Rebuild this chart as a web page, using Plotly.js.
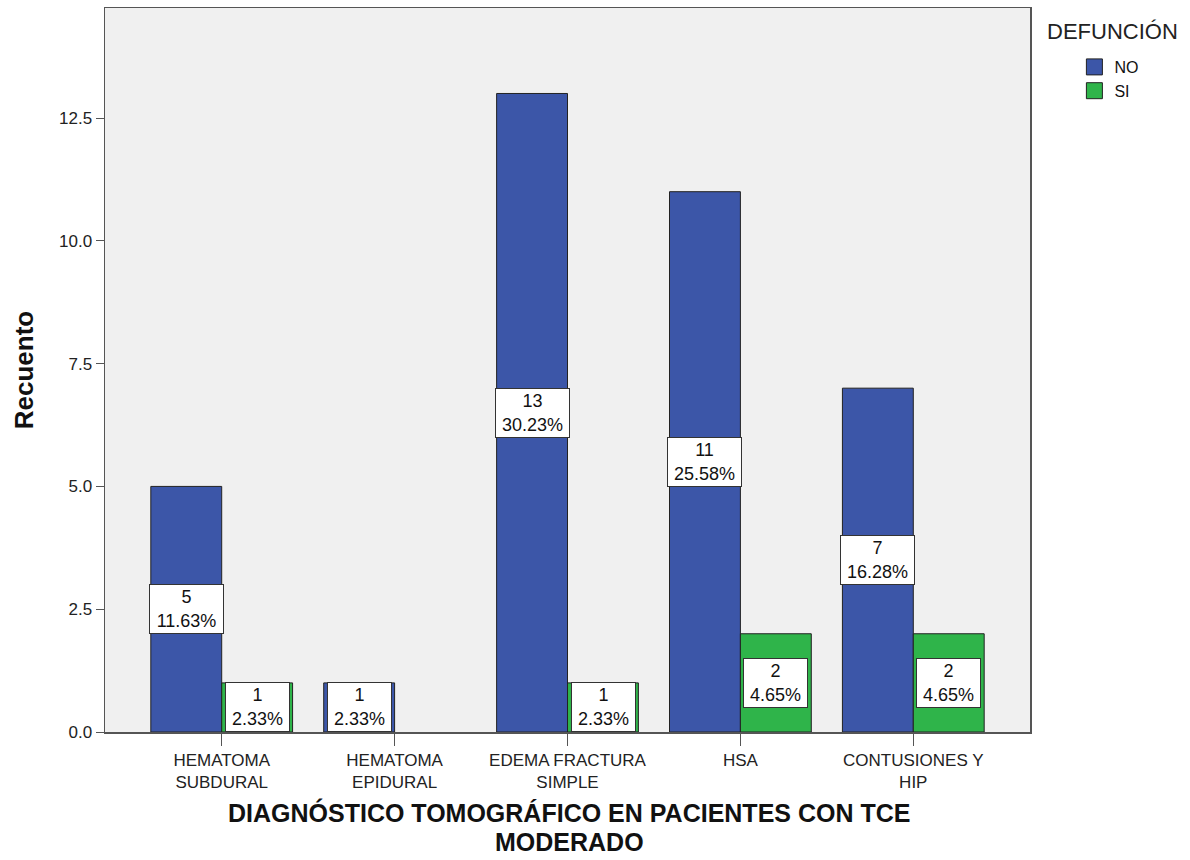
<!DOCTYPE html>
<html>
<head>
<meta charset="utf-8">
<script src="https://cdn.plot.ly/plotly-3.0.1.min.js"></script>
<style>html,body{margin:0;padding:0;background:#fff;}#chart{width:1190px;height:860px;}</style>
</head>
<body>
<div id="chart"></div>
<script>
const categories = ['HEMATOMA<br>SUBDURAL', 'HEMATOMA<br>EPIDURAL', 'EDEMA FRACTURA<br>SIMPLE', 'HSA', 'CONTUSIONES Y<br>HIP'];
const noValues = [5, 1, 13, 11, 7];
const siValues = [1, null, 1, 2, 2];
const noPct = ['11.63%', '2.33%', '30.23%', '25.58%', '16.28%'];
const siPct = ['2.33%', null, '2.33%', '4.65%', '4.65%'];
const yTicks = [0, 2.5, 5, 7.5, 10, 12.5];
const legendNames = ['NO', 'SI'];
const xTitleLines = ['DIAGNÓSTICO TOMOGRÁFICO EN PACIENTES CON TCE', 'MODERADO'];

const blue = '#3c56a8';
const green = '#2fb44a';
const font = 'Arial, "Liberation Sans", sans-serif';

const traces = [
  {type: 'bar', name: legendNames[0], x: categories, y: noValues, showlegend: false,
   marker: {color: blue, line: {color: '#222', width: 1}}, hoverinfo: 'skip'},
  {type: 'bar', name: legendNames[1], x: categories, y: siValues, showlegend: false,
   marker: {color: green, line: {color: '#222', width: 1}}, hoverinfo: 'skip'},
  // legend entries (no data points)
  {type: 'scatter', mode: 'markers', name: legendNames[0], x: [null], y: [null],
   marker: {symbol: 'square', size: 16, color: blue, line: {color: '#222', width: 1}}},
  {type: 'scatter', mode: 'markers', name: legendNames[1], x: [null], y: [null],
   marker: {symbol: 'square', size: 16, color: green, line: {color: '#222', width: 1}}}
];

const annotations = [];
function addLabels(values, pcts, shift) {
  values.forEach((v, i) => {
    if (v === null) return;
    annotations.push({
      x: categories[i], y: v / 2, xref: 'x', yref: 'y', xshift: shift,
      text: v + '<br>' + pcts[i], showarrow: false,
      font: {family: font, size: 18, color: '#111'},
      bgcolor: '#ffffff', bordercolor: '#333', borderwidth: 1, borderpad: 1,
      width: pcts[i].length >= 6 ? 71 : 61, height: 46, align: 'center', valign: 'middle'
    });
  });
}
addLabels(noValues, noPct, -35.5);
addLabels(siValues, siPct, 35.5);

annotations.push({
  xref: 'paper', yref: 'paper', x: 1.016, y: 0.967, xanchor: 'left', yanchor: 'middle',
  text: 'DEFUNCIÓN', showarrow: false, font: {family: font, size: 22, color: '#222'}
});
const titleY = [-0.1105, -0.1519];
xTitleLines.forEach((t, i) => {
  annotations.push({
    xref: 'paper', yref: 'paper', x: 0.502, y: titleY[i], xanchor: 'center', yanchor: 'middle',
    text: '<b>' + t + '</b>', showarrow: false, font: {family: font, size: 25, color: '#111'}
  });
});

const layout = {
  width: 1190, height: 860,
  margin: {l: 105, r: 160, t: 8, b: 128},
  paper_bgcolor: '#ffffff', plot_bgcolor: '#f0f0f0',
  barmode: 'group', bargap: 0.18, bargroupgap: 0,
  showlegend: true,
  legend: {x: 1.048, y: 0.942, xanchor: 'left', yanchor: 'top',
           font: {family: font, size: 16, color: '#111'}, tracegroupgap: 0,
           bgcolor: 'rgba(0,0,0,0)', itemsizing: 'trace'},
  font: {family: font, color: '#222'},
  xaxis: {
    type: 'category', range: [-0.675, 4.675],
    showline: true, mirror: true, linecolor: '#555', linewidth: 1.5,
    ticks: 'outside', ticklen: 12, tickcolor: '#555', tickwidth: 1,
    tickfont: {family: font, size: 17, color: '#222'},
    showgrid: false, zeroline: false
  },
  yaxis: {
    range: [0, 14.74],
    tickvals: yTicks, tickformat: '.1f',
    showline: true, mirror: true, linecolor: '#555', linewidth: 1.5,
    ticks: 'outside', ticklen: 8, tickcolor: '#555', tickwidth: 1,
    tickfont: {family: font, size: 17, color: '#222'},
    showgrid: false, zeroline: false,
    title: {text: '<b>Recuento</b>', font: {family: font, size: 26, color: '#111'}, standoff: 18}
  },
  annotations: annotations
};

Plotly.newPlot('chart', traces, layout, {displayModeBar: false, staticPlot: true});
</script>
</body>
</html>
